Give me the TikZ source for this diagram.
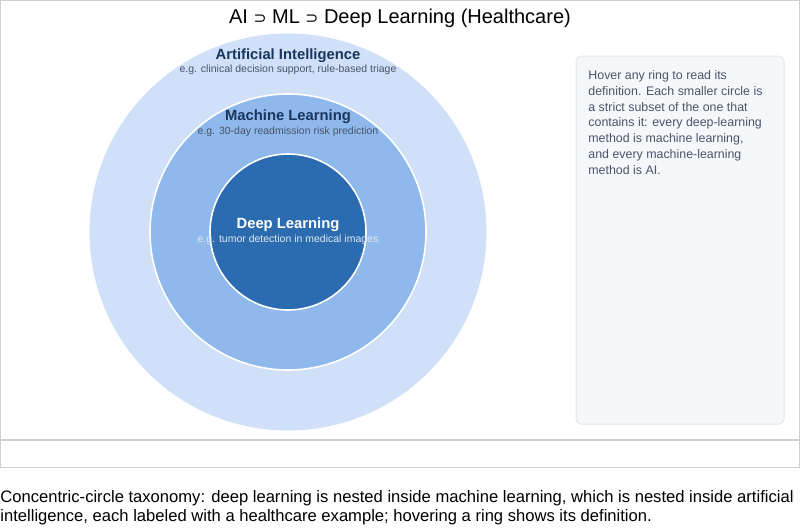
\documentclass[tikz,border=0pt]{standalone}
\usepackage{fontspec}
\setmainfont{Liberation Sans}
\newfontfamily\symfont{DejaVu Sans}
\usetikzlibrary{positioning}
\definecolor{frame}{RGB}{208,208,208}
\definecolor{ringai}{RGB}{207,224,248}
\definecolor{ringml}{RGB}{143,184,236}
\definecolor{ringdl}{RGB}{43,108,176}
\definecolor{navy}{RGB}{26,54,93}
\definecolor{slate}{RGB}{74,85,104}
\definecolor{paleink}{RGB}{226,232,240}
\definecolor{panelfill}{RGB}{245,248,251}
\definecolor{paneldraw}{RGB}{224,230,238}
\tikzset{
  every picture/.style={x=1pt, y=-1pt, line width=0.8pt},
  ring/.style={circle, inner sep=0pt, draw=white, line width=1.6pt},
  ringtitle/.style={font=\fontsize{14.8}{17}\selectfont\bfseries, text=navy, inner sep=0pt},
  ringnote/.style={font=\fontsize{10.5}{12}\selectfont, text=slate, inner sep=0pt},
  panel/.style={draw=paneldraw, fill=panelfill, rounded corners=5pt, line width=1pt},
  paneltext/.style={font=\fontsize{12.4}{15.7}\selectfont, text=slate, align=left, inner sep=0pt, anchor=north west},
  caption/.style={font=\fontsize{16.6}{19}\selectfont, text=black, align=left, inner sep=0pt, anchor=north west},
}
\begin{document}
\begin{tikzpicture}
  \useasboundingbox (0,0) rectangle (800,528);
  % outer frames
  \draw[frame] (0.5,0.5) rectangle (799.5,439.5);
  \draw[frame] (0.5,440.5) rectangle (799.5,467.5);
  \node[font=\fontsize{20}{23}\selectfont, inner sep=0pt] (title) at (400,18) {AI {\symfont\fontsize{15.5}{17}\selectfont ⊃} ML {\symfont\fontsize{15.5}{17}\selectfont ⊃} Deep Learning (Healthcare)};
  % nested rings
  \node[ring, draw=none, fill=ringai, minimum size=397pt] (ai) at (288,232) {};
  \node[ring, fill=ringml, minimum size=276pt] (ml) at (288,232) {};
  \node[ring, fill=ringdl, minimum size=156pt] (dl) at (288,232) {};
  \node[ringtitle] (aititle) at (288,55.5) {Artificial Intelligence};
  \node[ringnote] (ainote) at (288,70) {e.g. clinical decision support, rule-based triage};
  \node[ringtitle] (mltitle) at (288,117) {Machine Learning};
  \node[ringnote] (mlnote) at (288,131.5) {e.g. 30-day readmission risk prediction};
  \node[ringtitle, text=white] (dltitle) at (288,225) {Deep Learning};
  \node[ringnote, text=paleink] (dlnote) at (288,240) {e.g. tumor detection in medical images};
  % definition panel
  \draw[panel] (576,56) rectangle (784,424);
  \node[paneltext] (hint) at (588,70.5) {Hover any ring to read its\\ definition. Each smaller circle is\\ a strict subset of the one that\\ contains it: every deep-learning\\ method is machine learning,\\ and every machine-learning\\ method is AI.};
  \node[caption] (cap) at (0,490.5) {Concentric-circle taxonomy: deep learning is nested inside machine learning, which is nested inside artificial\\ intelligence, each labeled with a healthcare example; hovering a ring shows its definition.};
\end{tikzpicture}
\end{document}
